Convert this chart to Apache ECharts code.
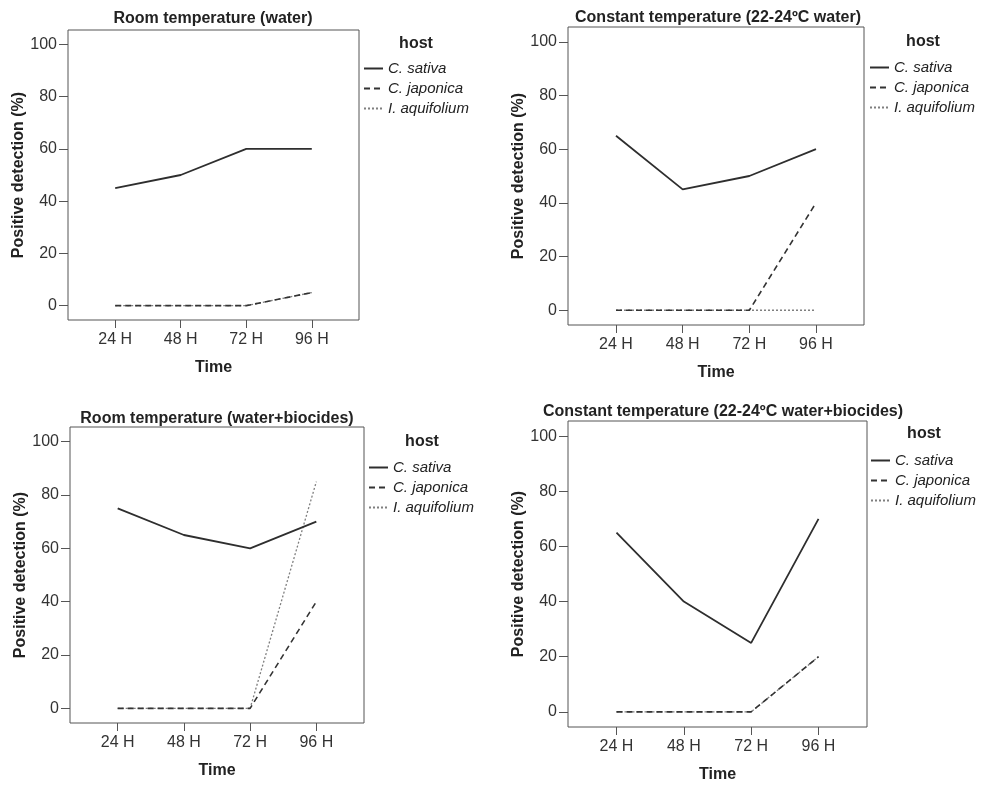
<!DOCTYPE html>
<html>
<head>
<meta charset="UTF-8">
<title>Positive detection by host</title>
<script src="https://cdn.jsdelivr.net/npm/echarts@6.0.0/dist/echarts.min.js"></script>
<style>html,body{margin:0;padding:0;background:#fff}</style>
</head>
<body>
<div id="main" style="width:982px;height:785px;"></div>
<script type="text/javascript">
var times = ['24 H', '48 H', '72 H', '96 H'];
var hosts = ['C. sativa', 'C. japonica', 'I. aquifolium'];
var panelTitles = [
	'Room temperature (water)',
	'Constant temperature (22-24ºC water)',
	'Room temperature (water+biocides)',
	'Constant temperature (22-24ºC water+biocides)'
];
var yTicks = [0, 20, 40, 60, 80, 100];

// one row per panel, values at 24/48/72/96 H
var sativa = [[45, 50, 60, 60], [65, 45, 50, 60], [75, 65, 60, 70], [65, 40, 25, 70]];
var japonica = [[0, 0, 0, 5], [0, 0, 0, 40], [0, 0, 0, 40], [0, 0, 0, 20]];
var aquifolium = [[0, 0, 0, 5], [0, 0, 0, 0], [0, 0, 0, 85], [0, 0, 0, 20]];

// layout of the four panels
var boxes = [[68, 30, 291, 290], [568, 27, 296, 298], [70, 427, 294, 296], [568, 421, 299, 306]];
var titlePos = [[213, 20], [718, 19], [217, 420], [723, 413]];
var hostPos = [[416, 45], [923, 43], [422, 443], [924, 435]];
var legendPos = [[363, 61], [869, 60], [368, 460], [870, 453]];

var font = '"Liberation Sans", Arial, sans-serif';
var lineStyles = {
	'C. sativa': {color: '#2e2e2e', width: 1.8, type: 'solid'},
	'C. japonica': {color: '#333', width: 1.6, type: [6, 4]},
	'I. aquifolium': {color: '#7f7f7f', width: 1.3, type: [2, 2]}
};

function pairs(arr) {
	return arr.map(function (v, k) { return [k, v]; });
}

var grid = [], xAxis = [], yAxis = [], series = [], title = [], legend = [];
for (var i = 0; i < 4; i++) {
	var b = boxes[i];
	grid.push({
		left: b[0], top: b[1], width: b[2], height: b[3],
		show: true, borderColor: '#555', borderWidth: 1, backgroundColor: 'transparent'
	});
	xAxis.push({
		type: 'value', gridIndex: i, min: -0.72, max: 3.72,
		axisLine: {show: false, onZero: false},
		splitLine: {show: false},
		axisTick: {show: true, customValues: [0, 1, 2, 3], length: 8, lineStyle: {color: '#555'}},
		axisLabel: {
			customValues: [0, 1, 2, 3], margin: 12, fontSize: 16, color: '#333', fontFamily: font,
			formatter: function (v) { return times[v]; }
		},
		name: 'Time', nameLocation: 'middle', nameGap: 40,
		nameTextStyle: {fontSize: 16, fontWeight: 'bold', color: '#222', fontFamily: font}
	});
	yAxis.push({
		type: 'value', gridIndex: i, min: -5.5, max: 105.5,
		axisLine: {show: false, onZero: false},
		splitLine: {show: false},
		axisTick: {show: true, customValues: yTicks, length: 9, lineStyle: {color: '#555'}},
		axisLabel: {customValues: yTicks, margin: 11, fontSize: 16, color: '#333', fontFamily: font},
		name: 'Positive detection (%)', nameLocation: 'middle', nameGap: 41,
		nameTextStyle: {fontSize: 16, fontWeight: 'bold', color: '#222', fontFamily: font}
	});
	title.push({
		text: panelTitles[i], left: titlePos[i][0], top: titlePos[i][1] - 9, textAlign: 'center', padding: 0,
		textStyle: {fontSize: 16, fontWeight: 'bold', color: '#222', fontFamily: font}
	});
	title.push({
		text: 'host', left: hostPos[i][0], top: hostPos[i][1] - 9, textAlign: 'center', padding: 0,
		textStyle: {fontSize: 16, fontWeight: 'bold', color: '#222', fontFamily: font}
	});
	legend.push({
		data: hosts, orient: 'vertical', left: legendPos[i][0], top: legendPos[i][1],
		itemWidth: 19, itemHeight: 14, itemGap: 5, padding: 0, selectedMode: false,
		// line only, no marker in the key
		itemStyle: {color: 'transparent', borderColor: 'transparent', borderWidth: 0, opacity: 0},
		textStyle: {fontSize: 15, fontStyle: 'italic', color: '#222', fontFamily: font}
	});
	// draw dotted first so dashed and solid lie above it
	var rows = [['I. aquifolium', aquifolium[i]], ['C. japonica', japonica[i]], ['C. sativa', sativa[i]]];
	rows.forEach(function (r) {
		series.push({
			type: 'line', name: r[0], xAxisIndex: i, yAxisIndex: i,
			data: pairs(r[1]), symbol: 'none', showSymbol: false,
			lineStyle: lineStyles[r[0]], itemStyle: {color: lineStyles[r[0]].color},
			animation: false
		});
	});
}

var option = {
	backgroundColor: '#fff',
	animation: false,
	title: title,
	legend: legend,
	grid: grid,
	xAxis: xAxis,
	yAxis: yAxis,
	series: series
};

echarts.init(document.getElementById('main')).setOption(option);
</script>
</body>
</html>
